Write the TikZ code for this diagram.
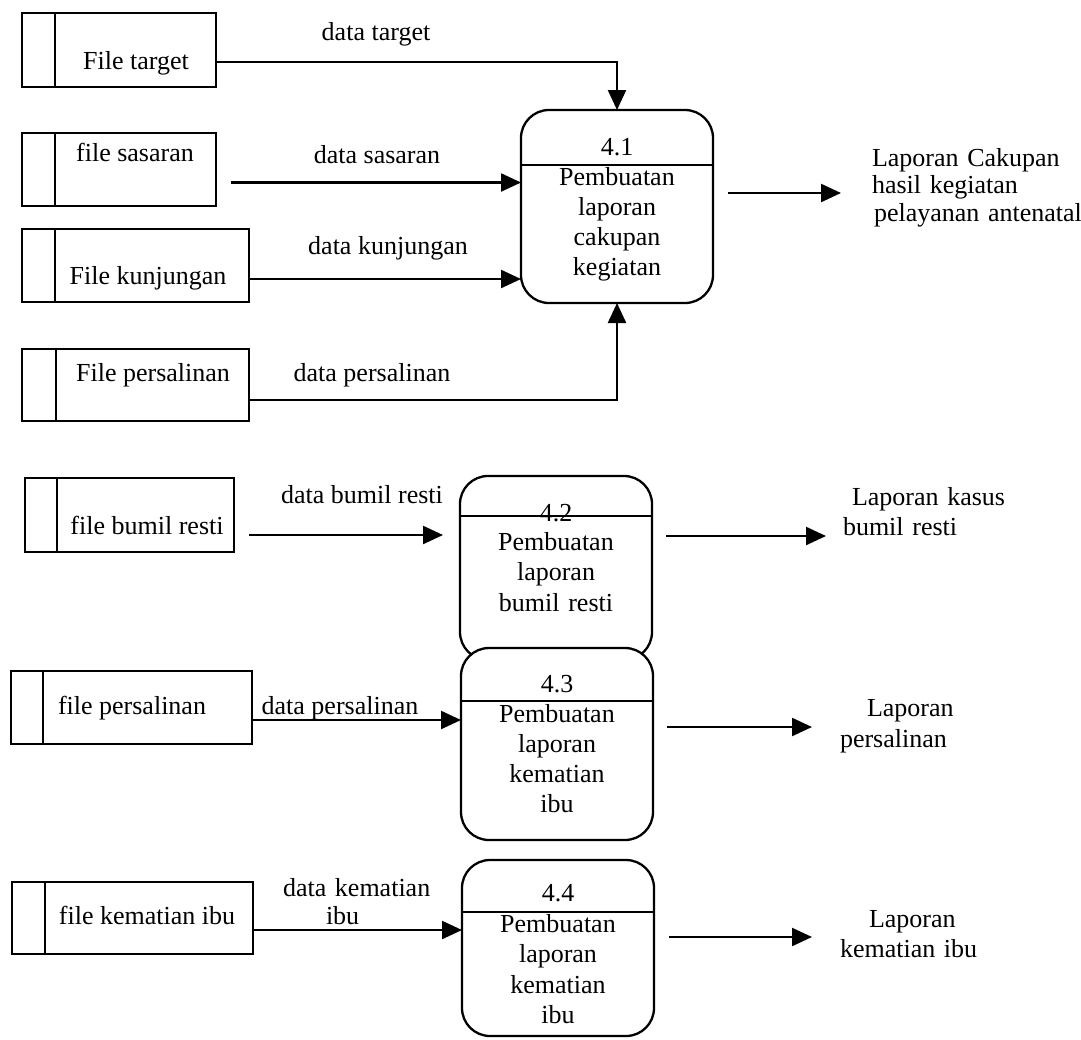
\documentclass[tikz,border=0pt]{standalone}
\usepackage{fontspec}
\setmainfont{Liberation Serif}
\usetikzlibrary{arrows.meta}

\begin{document}
\begin{tikzpicture}[x=1pt,y=-1pt,
  every node/.style={inner sep=0pt, outer sep=0pt},
  txt/.style={font=\fontsize{26}{30}\selectfont, anchor=base},
  ptxt/.style={txt, text width=190pt, align=center},
  ltxt/.style={txt, anchor=base west, text width=240pt, align=left},
  store/.style={draw, line width=2.3pt},
  proc/.style={draw, line width=2.3pt, rounded corners=28pt, fill=white},
  bar/.style={line width=2.3pt},
  flow/.style={line width=2.3pt, -{Triangle[length=20pt,width=18pt]}},
]
\useasboundingbox (0,0) rectangle (1081,1039);

% ---------- data stores ----------
\node[store, minimum width=194pt, minimum height=74pt] (s1) at (119,49.7) {};
\node[store, minimum width=194pt, minimum height=73pt] (s2) at (119,169.5) {};
\node[store, minimum width=227pt, minimum height=73pt] (s3) at (135.5,265.5) {};
\node[store, minimum width=227pt, minimum height=72pt] (s4) at (135.5,385) {};
\node[store, minimum width=209pt, minimum height=74pt] (s5) at (129.5,515) {};
\node[store, minimum width=241pt, minimum height=73pt] (s6) at (131.5,707.5) {};
\node[store, minimum width=241pt, minimum height=72pt] (s7) at (132.5,918) {};
\foreach \s/\d in {s1/33,s2/33,s3/33,s4/34,s5/32,s6/32,s7/33}
  \draw[bar] ([xshift=\d pt]\s.north west) -- ([xshift=\d pt]\s.south west);

\node[txt] (s1t) at (136,69) {File target};
\node[txt] (s2t) at (135,161) {file sasaran};
\node[txt] (s3t) at (148,284) {File kunjungan};
\node[txt] (s4t) at (153,381) {File persalinan};
\node[txt] (s5t) at (147,534) {file bumil resti};
\node[txt] (s6t) at (132,714) {file persalinan};
\node[txt] (s7t) at (147,924) {file kematian ibu};

% ---------- process 4.1 ----------
\node[proc, minimum width=192pt, minimum height=193pt] (p1) at (617,206.5) {};
\draw[bar] ([yshift=-55pt]p1.north west) -- ([yshift=-55pt]p1.north east);
\node[txt] (p1n) at (617,155) {4.1};
\node[ptxt] (p1b) at (617,185) {Pembuatan\\laporan\\cakupan\\kegiatan};

% ---------- process 4.2 ----------
\node[proc, minimum width=192pt, minimum height=184pt] (p2) at (556,568) {};
\draw[bar] ([yshift=-40pt]p2.north west) -- ([yshift=-40pt]p2.north east);
\node[txt] (p2n) at (556,521) {4.2};
\node[ptxt, font=\fontsize{26}{30.5}\selectfont] (p2b) at (556,550) {Pembuatan\\laporan\\bumil resti};

% ---------- process 4.3 ----------
\node[proc, minimum width=192pt, minimum height=192pt] (p3) at (557,744) {};
\draw[bar] ([yshift=-53pt]p3.north west) -- ([yshift=-53pt]p3.north east);
\node[txt] (p3n) at (557,692) {4.3};
\node[ptxt, font=\fontsize{26}{30.3}\selectfont] (p3b) at (557,722) {Pembuatan\\laporan\\kematian\\ibu};

% ---------- process 4.4 ----------
\node[proc, minimum width=192pt, minimum height=176pt] (p4) at (558,948) {};
\draw[bar] ([yshift=-52pt]p4.north west) -- ([yshift=-52pt]p4.north east);
\node[txt] (p4n) at (558,901) {4.4};
\node[ptxt, font=\fontsize{26}{30.5}\selectfont] (p4b) at (558,932) {Pembuatan\\laporan\\kematian\\ibu};

% ---------- flow labels ----------
\node[txt] (l1) at (376,40) {data target};
\node[txt] (l2) at (377,163) {data sasaran};
\node[txt] (l3) at (388,254) {data kunjungan};
\node[txt] (l4) at (372,381) {data persalinan};
\node[txt] (l5) at (362,503) {data bumil resti};
\node[txt] (l6) at (340,714) {data persalinan};
\node[ltxt, text width=160pt, font=\fontsize{26}{28}\selectfont] (l7) at (283,896) {data kematian\\\hspace*{43pt}ibu};

% ---------- outputs ----------
\node[ltxt, font=\fontsize{26}{27.5}\selectfont] (r1) at (872,166) {Laporan Cakupan\\hasil kegiatan\\\hspace*{2pt}pelayanan antenatal};
\node[ltxt] (r2) at (843,505) {\hspace*{9pt}Laporan kasus\\bumil resti};
\node[ltxt, font=\fontsize{26}{31}\selectfont] (r3) at (840,716) {\hspace*{27pt}Laporan\\persalinan};
\node[ltxt] (r4) at (840,927) {\hspace*{29pt}Laporan\\kematian ibu};

\coordinate (o1) at (841,193);
\coordinate (i2) at (443,535);
\coordinate (o2) at (826,536);
\coordinate (o3) at (812,727);
\coordinate (o4) at (812,937);

% ---------- data flows ----------
\draw[flow] ([yshift=-12pt]s1.east) -| (p1.north);
\draw[flow] ([xshift=15pt,yshift=-13pt]s2.east) coordinate (a2) -- (a2 -| p1.west);
\draw[flow] ([yshift=-13.5pt]s3.east) coordinate (a3) -- (a3 -| p1.west);
\draw[flow] ([yshift=-15pt]s4.east) -| (p1.south);
\draw[flow] ([xshift=15pt,yshift=13.5pt]p1.east) -- (o1);

\draw[flow] ([xshift=15pt,yshift=-20pt]s5.east) -- (i2);
\draw[flow] ([xshift=14pt,yshift=32pt]p2.east) -- (o2);
\draw[flow] ([yshift=-12.5pt]s6.east) coordinate (a6) -- (a6 -| p3.west);
\draw[flow] ([xshift=14pt,yshift=17pt]p3.east) -- (o3);
\draw[flow] ([yshift=-12pt]s7.east) coordinate (a7) -- (a7 -| p4.west);
\draw[flow] ([xshift=15pt,yshift=11pt]p4.east) -- (o4);
\end{tikzpicture}
\end{document}
